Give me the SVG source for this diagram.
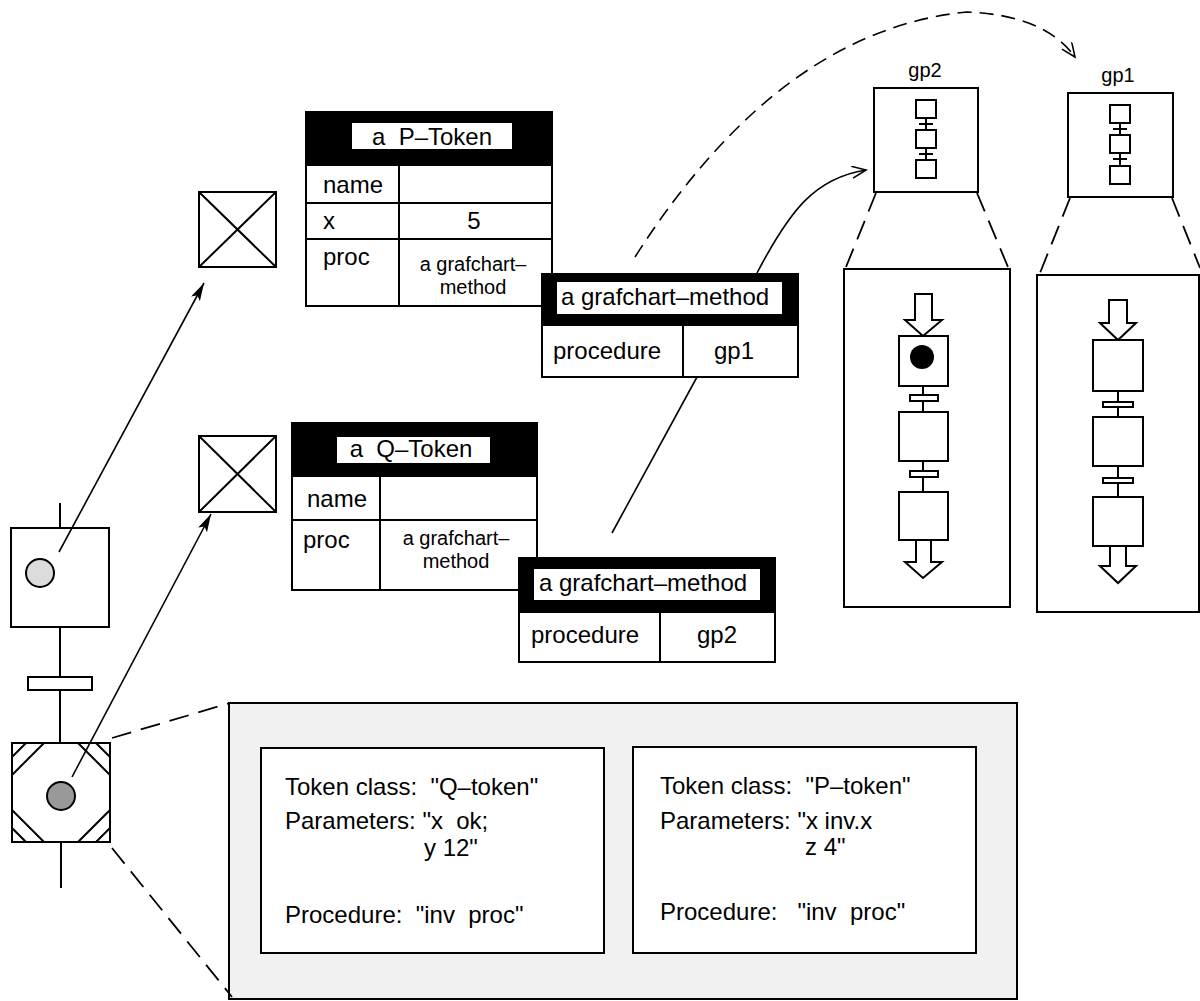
<svg xmlns="http://www.w3.org/2000/svg" width="1200" height="1001" viewBox="0 0 1200 1001">
<defs>
<style>
text { font-family: "Liberation Sans", Arial, Helvetica, sans-serif; font-size: 24px; fill: #000; white-space: pre; }
.cell2 { font-size: 20px; }
.box { fill: #fff; stroke: #000; stroke-width: 2; }
.ln { fill: none; stroke: #000; stroke-width: 2; }
.thin { fill: none; stroke: #000; stroke-width: 1.6; }
.dash { fill: none; stroke: #000; stroke-width: 1.8; stroke-dasharray: 20 10; }
.dash2 { fill: none; stroke: #000; stroke-width: 1.6; stroke-dasharray: 14 8; }
.hdr { fill: #000; stroke: #000; stroke-width: 2; }
.lbl { fill: #fff; stroke: none; }
.mid { text-anchor: middle; }
.gp { font-size: 20px; }
.dotted { fill: #f1f1f1; stroke: #000; stroke-width: 2; }
</style>
<marker id="ah" markerUnits="userSpaceOnUse" markerWidth="20" markerHeight="12" refX="18" refY="5" orient="auto">
<path d="M0,0 L18,5 L0,10 L4,5 z" fill="#000"/>
</marker>
<marker id="open" markerUnits="userSpaceOnUse" markerWidth="18" markerHeight="14" refX="15" refY="6" orient="auto">
<path d="M1,0 L15,6 L1,12" fill="none" stroke="#000" stroke-width="1.6"/>
</marker>
</defs>
<rect x="0" y="0" width="1200" height="1001" fill="#fff"/>

<!-- dotted detail box -->
<g id="detail-box">
<rect class="dotted" x="229" y="703" width="788" height="296"/>
</g>
<g id="q-params">
<rect class="box" x="261" y="748" width="343" height="205"/>
<text x="285" y="795">Token class:  "Q–token"</text>
<text x="285" y="829">Parameters: "x  ok;</text>
<text x="424" y="856">y 12"</text>
<text x="285" y="923">Procedure:  "inv  proc"</text>
</g>
<g id="p-params">
<rect class="box" x="633" y="747" width="343" height="206"/>
<text x="660" y="794">Token class:  "P–token"</text>
<text x="660" y="829">Parameters: "x inv.x</text>
<text x="805" y="855">z 4"</text>
<text x="660" y="920">Procedure:   "inv  proc"</text>
</g>

<!-- left Grafchart steps -->
<g id="step-top">
<line class="ln" x1="60" y1="503" x2="60" y2="528"/>
<rect class="box" x="11" y="528" width="98" height="99"/>
<circle cx="40" cy="573" r="14" fill="#dcdcdc" stroke="#000" stroke-width="2"/>
</g>
<g id="transition">
<line class="ln" x1="60" y1="627" x2="60" y2="743"/>
<rect class="box" x="28" y="677" width="64" height="13"/>
</g>
<g id="step-macro">
<rect class="box" x="12" y="743" width="98" height="99"/>
<path class="ln" d="M12,757 L26,743 M12,775 L44,743 M78,743 L110,775 M96,743 L110,757 M12,810 L44,842 M12,828 L26,842 M78,842 L110,810 M96,842 L110,828"/>
<circle cx="61" cy="796" r="14" fill="#999" stroke="#000" stroke-width="2"/>
<line class="ln" x1="61" y1="842" x2="61" y2="888"/>
</g>

<!-- crossed boxes -->
<g id="xbox-p">
<rect class="box" x="199" y="192" width="77" height="75"/>
<path class="ln" d="M199,192 L276,267 M276,192 L199,267"/>
</g>
<g id="xbox-q">
<rect class="box" x="199" y="436" width="77" height="76"/>
<path class="ln" d="M199,436 L276,512 M276,436 L199,512"/>
</g>

<!-- P-Token table -->
<g id="p-token">
<rect class="hdr" x="306" y="112" width="246" height="53"/>
<rect class="lbl" x="352" y="123" width="160" height="26"/>
<text class="mid" x="432" y="145">a  P–Token</text>
<rect class="box" x="306" y="165" width="246" height="141"/>
<path class="ln" d="M306,203 L552,203 M306,239 L552,239 M399,165 L399,306"/>
<text x="323" y="193">name</text>
<text x="323" y="229">x</text>
<text class="mid" x="474" y="229">5</text>
<text x="323" y="265">proc</text>
<text class="mid cell2"><tspan x="473" y="271">a grafchart–</tspan><tspan x="473" y="294">method</tspan></text>
</g>
<g id="method-gp1">
<rect class="hdr" x="542" y="274" width="256" height="51"/>
<rect class="lbl" x="557" y="282" width="225" height="32"/>
<text x="561" y="305">a grafchart–method</text>
<rect class="box" x="542" y="325" width="256" height="52"/>
<line class="ln" x1="683" y1="325" x2="683" y2="377"/>
<text x="553" y="359">procedure</text>
<text class="mid" x="734" y="359">gp1</text>
</g>

<!-- Q-Token table -->
<g id="q-token">
<rect class="hdr" x="292" y="423" width="245" height="53"/>
<rect class="lbl" x="337" y="437" width="153" height="26"/>
<text class="mid" x="411" y="457">a  Q–Token</text>
<rect class="box" x="292" y="476" width="245" height="114"/>
<path class="ln" d="M292,520 L537,520 M380,476 L380,590"/>
<text x="307" y="507">name</text>
<text x="303" y="548">proc</text>
<text class="mid cell2"><tspan x="456" y="545">a grafchart–</tspan><tspan x="456" y="568">method</tspan></text>
</g>
<g id="method-gp2">
<rect class="hdr" x="519" y="558" width="256" height="54"/>
<rect class="lbl" x="534" y="569" width="226" height="31"/>
<text x="539" y="591">a grafchart–method</text>
<rect class="box" x="519" y="612" width="256" height="50"/>
<line class="ln" x1="660" y1="612" x2="660" y2="662"/>
<text x="531" y="643">procedure</text>
<text class="mid" x="717" y="643">gp2</text>
</g>

<!-- gp2 procedure -->
<g id="gp2-icon">
<text class="mid gp" x="925" y="77">gp2</text>
<rect class="box" x="874" y="88" width="104" height="104"/>
<rect class="box" x="916" y="100" width="20" height="18"/>
<rect class="box" x="916" y="130" width="20" height="18"/>
<rect class="box" x="916" y="160" width="20" height="18"/>
<path class="ln" d="M926,118 L926,130 M926,148 L926,160 M919,124 L933,124 M919,154 L933,154"/>
</g>
<g id="gp2-zoom">
<path class="dash" d="M876,193 L846,267 M977,193 L1008,267"/>
<rect class="box" x="844" y="269" width="166" height="338"/>
<path class="box" d="M915,294 L932,294 L932,320 L942,320 L923,336 L905,320 L915,320 Z"/>
<line class="ln" x1="923" y1="386" x2="923" y2="492"/>
<rect class="box" x="899" y="336" width="49" height="50"/>
<circle cx="922" cy="357" r="12" fill="#000"/>
<rect class="box" x="910" y="395" width="28" height="6"/>
<rect class="box" x="899" y="412" width="49" height="49"/>
<rect class="box" x="910" y="471" width="28" height="6"/>
<rect class="box" x="899" y="492" width="49" height="48"/>
<path class="box" d="M916,540 L931,540 L931,562 L942,562 L923,578 L905,562 L916,562 Z"/>
</g>

<!-- gp1 procedure -->
<g id="gp1-icon">
<text class="mid gp" x="1118" y="82">gp1</text>
<rect class="box" x="1068" y="93" width="105" height="104"/>
<rect class="box" x="1110" y="105" width="20" height="18"/>
<rect class="box" x="1110" y="135" width="20" height="18"/>
<rect class="box" x="1110" y="166" width="20" height="18"/>
<path class="ln" d="M1120,123 L1120,135 M1120,153 L1120,166 M1113,129 L1127,129 M1113,159 L1127,159"/>
</g>
<g id="gp1-zoom">
<path class="dash" d="M1070,198 L1040,273 M1172,198 L1200,268"/>
<rect class="box" x="1037" y="275" width="162" height="337"/>
<path class="box" d="M1109,300 L1127,300 L1127,323 L1136,323 L1118,340 L1100,323 L1109,323 Z"/>
<line class="ln" x1="1118" y1="391" x2="1118" y2="497"/>
<rect class="box" x="1093" y="340" width="50" height="51"/>
<rect class="box" x="1103" y="402" width="30" height="5"/>
<rect class="box" x="1093" y="417" width="50" height="49"/>
<rect class="box" x="1103" y="478" width="30" height="5"/>
<rect class="box" x="1093" y="497" width="50" height="49"/>
<path class="box" d="M1110,546 L1126,546 L1126,566 L1136,566 L1118,583 L1100,566 L1110,566 Z"/>
</g>

<!-- connectors -->
<g id="connectors">
<line class="thin" x1="59" y1="552" x2="204" y2="283" marker-end="url(#ah)"/>
<line class="thin" x1="72" y1="777" x2="211" y2="514" marker-end="url(#ah)"/>
<path class="dash" d="M112,738 L230,703"/>
<path class="dash" d="M112,848 L232,997"/>
<line class="thin" x1="697" y1="377" x2="612" y2="533"/>
<path class="thin" d="M757,273 C790,210 815,178 866,170" marker-end="url(#open)"/>
<path class="dash2" d="M635,257 Q780,30 967,12 Q1045,15 1075,57" marker-end="url(#open)"/>
</g>
</svg>
